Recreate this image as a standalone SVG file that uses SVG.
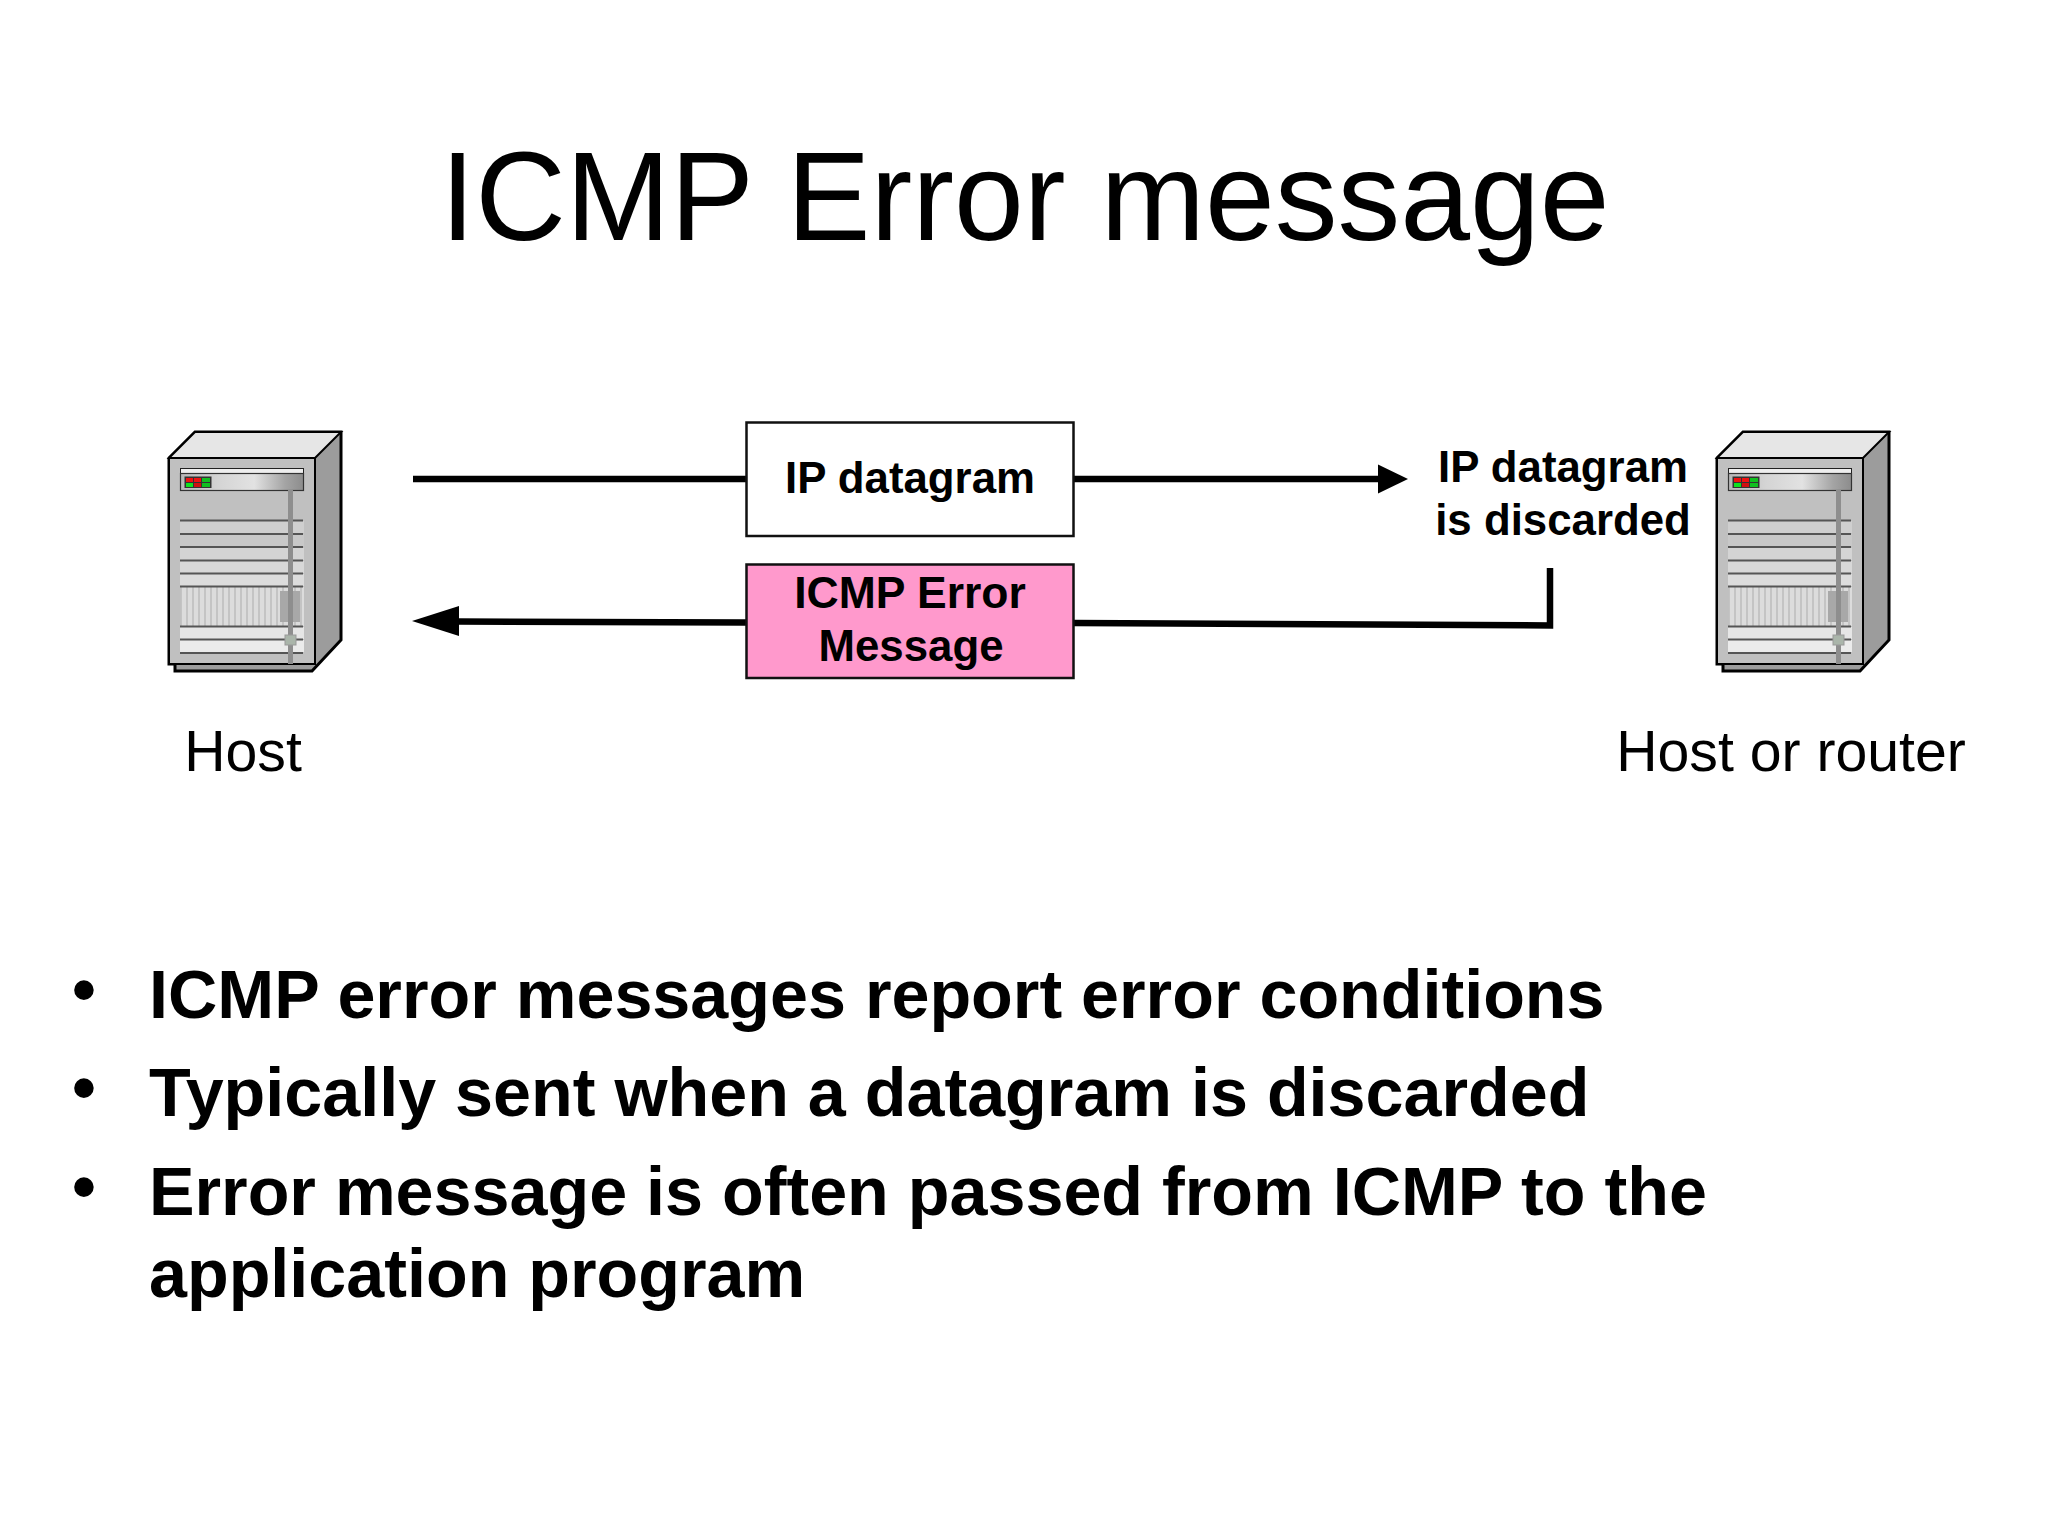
<svg xmlns="http://www.w3.org/2000/svg" xmlns:xlink="http://www.w3.org/1999/xlink" width="2048" height="1536" viewBox="0 0 2048 1536">
<style>
text{font-family:"Liberation Sans",Arial,sans-serif;fill:#000}
.lbl{font-size:43.800px;font-weight:bold;text-anchor:middle}
.cap{font-size:57.200px}
.bul{font-size:68.280px;font-weight:bold}
.wire{fill:none;stroke:#000;stroke-width:6.5}
.box{stroke:#111;stroke-width:2.5}
.sl{stroke:#555;stroke-width:1.800;fill:none}
</style>
<defs>
<linearGradient id="bar" x1="0" x2="1" y1="0" y2="0"><stop offset="0" stop-color="#b8b8b8"/><stop offset=".3" stop-color="#d4d4d4"/><stop offset=".6" stop-color="#e2e2e2"/><stop offset=".85" stop-color="#a4a4a4"/><stop offset="1" stop-color="#8c8c8c"/></linearGradient>
<pattern id="vs" width="6" height="10" patternUnits="userSpaceOnUse"><rect width="6" height="10" fill="#dcdcdc"/><rect width="2" height="10" fill="#c4c4c4"/></pattern>
<g id="server">
<path d="M169 458L195 432H341V640L312 671H175V664H169Z" fill="#9c9c9c" stroke="#000" stroke-width="3"/>
<path d="M169 458L195 432H341L315 458Z" fill="#e6e6e6" stroke="#000" stroke-width="2"/>
<rect x="169" y="458" width="146" height="206" fill="#c0c0c0" stroke="#000" stroke-width="2"/>
<rect x="180.500" y="468.500" width="123" height="5" fill="#eee" stroke="#222" stroke-width="1"/>
<rect x="180.500" y="473.500" width="123" height="17" fill="url(#bar)" stroke="#333" stroke-width="1.200"/>
<rect x="184.500" y="476.500" width="27" height="11.500" fill="#333"/>
<rect x="186" y="478" width="7" height="4" fill="#f01010"/><rect x="194" y="478" width="7" height="4" fill="#f01010"/><rect x="202" y="478" width="8" height="4" fill="#10c020"/>
<rect x="186" y="483" width="7" height="4" fill="#10e020"/><rect x="194" y="483" width="7" height="4" fill="#d01010"/><rect x="202" y="483" width="8" height="4" fill="#10c020"/>
<rect x="180" y="521" width="124" height="12" fill="#cfcfcf"/>
<rect x="180" y="534" width="124" height="12" fill="#c8c8c8"/>
<rect x="180" y="548" width="124" height="12" fill="#d4d4d4"/>
<rect x="180" y="561" width="124" height="12" fill="#d8d8d8"/>
<rect x="180" y="574" width="124" height="12" fill="#dcdcdc"/>
<rect x="181" y="587" width="123" height="39" fill="url(#vs)"/>
<rect x="180" y="627" width="124" height="12" fill="#e6e6e6"/>
<rect x="180" y="640" width="124" height="12" fill="#ebebeb"/>
<path class="sl" d="M180 520.500H303M180 534H303M180 547H303M180 560.500H303M180 573.500H303M180 586.500H303M180 626.500H303M180 639.500H303M180 653H303"/>
<rect x="280" y="591" width="20" height="31" fill="#a8a8a8"/>
<rect x="288" y="490" width="5" height="174" fill="#8e8e8e"/>
<rect x="285" y="635" width="11" height="10" fill="#aab5aa" stroke="#999" stroke-width="1"/>
</g>
</defs>
<rect width="2048" height="1536" fill="#fff"/>
<text id="title" x="1025" y="240" font-size="125.500" text-anchor="middle">ICMP Error message</text>
<g id="host"><use xlink:href="#server" href="#server"/><text class="cap" x="243" y="771" text-anchor="middle">Host</text></g>
<g id="router"><use xlink:href="#server" href="#server" x="1548"/><text class="cap" x="1791" y="771" text-anchor="middle">Host or router</text></g>
<g id="connectors">
<path class="wire" d="M413 479H746M1074 479H1380"/>
<path d="M1378 464.500L1408 479L1378 493.500Z"/>
<path class="wire" d="M457 621.500L746 622.500M1074 623L1550 625.500V568"/>
<path d="M459 606L412 621L459 636Z"/>
</g>
<g id="ip-datagram"><rect class="box" x="746.500" y="422.500" width="327" height="113.500" fill="#fff"/><text class="lbl" x="910" y="493">IP datagram</text></g>
<g id="icmp-error"><rect class="box" x="746.500" y="564.500" width="327" height="113.500" fill="#ff99cc"/><text class="lbl" style="font-size:44.500px" x="910" y="607.500">ICMP Error</text><text class="lbl" x="911" y="661">Message</text></g>
<g id="discarded"><text class="lbl" x="1563" y="481.500">IP datagram</text><text class="lbl" x="1563" y="534.500">is discarded</text></g>
<g id="bullets">
<text class="bul" x="72" y="1013">•</text><text class="bul" x="149" y="1018">ICMP error messages report error conditions</text>
<text class="bul" x="72" y="1111">•</text><text class="bul" x="149" y="1116">Typically sent when a datagram is discarded</text>
<text class="bul" x="72" y="1210">•</text><text class="bul" x="149" y="1215">Error message is often passed from ICMP to the</text>
<text class="bul" x="149" y="1297">application program</text>
</g>
</svg>
